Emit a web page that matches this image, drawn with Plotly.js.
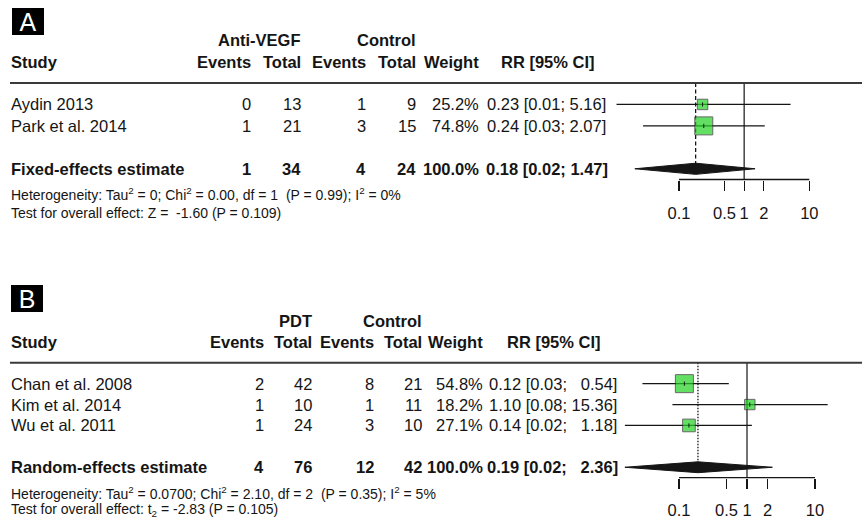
<!DOCTYPE html>
<html>
<head>
<meta charset="utf-8">
<script src="https://cdn.plot.ly/plotly-3.0.1.min.js"></script>
<style>
html, body { margin: 0; padding: 0; background: #ffffff; }
#chart { width: 862px; height: 519px; }
</style>
</head>
<body>
<div id="chart"></div>
<script>
// ---------------- DATA : panel A (Anti-VEGF vs Control) ----------------
const studiesA = ["Aydin 2013", "Park et al. 2014"];
const eventsTrtA = [0, 1];
const totalTrtA = [13, 21];
const eventsCtlA = [1, 3];
const totalCtlA = [9, 15];
const weightA = [25.2, 74.8];
const rrA = [0.23, 0.24];
const lowerA = [0.011, 0.028];
const upperA = [5.16, 2.07];
const pooledNameA = "Fixed-effects estimate";
const pooledCountsA = [1, 34, 4, 24];
const pooledWeightA = 100.0;
const pooledA = [0.18, 0.021, 1.47];          // estimate, lower, upper
const groupsA = ["Anti-VEGF", "Control"];
const heteroA = "Heterogeneity: Tau<sup>2</sup> = 0; Chi<sup>2</sup> = 0.00, df = 1 \u00a0(P = 0.99); I<sup>2</sup> = 0%";
const overallA = "Test for overall effect: Z = \u00a0-1.60 (P = 0.109)";

// ---------------- DATA : panel B (PDT vs Control) ----------------
const studiesB = ["Chan et al. 2008", "Kim et al. 2014", "Wu et al. 2011"];
const eventsTrtB = [2, 1, 1];
const totalTrtB = [42, 10, 24];
const eventsCtlB = [8, 1, 3];
const totalCtlB = [21, 11, 10];
const weightB = [54.8, 18.2, 27.1];
const rrB = [0.12, 1.10, 0.14];
const lowerB = [0.029, 0.08, 0.016];
const upperB = [0.54, 15.36, 1.18];
const pooledNameB = "Random-effects estimate";
const pooledCountsB = [4, 76, 12, 42];
const pooledWeightB = 100.0;
const pooledB = [0.19, 0.016, 2.36];
const groupsB = ["PDT", "Control"];
const heteroB = "Heterogeneity: Tau<sup>2</sup> = 0.0700; Chi<sup>2</sup> = 2.10, df = 2 \u00a0(P = 0.35); I<sup>2</sup> = 5%";
const overallB = "Test for overall effect: t<sub>2</sub> = -2.83 (P = 0.105)";

// ---------------- shared labels ----------------
const colHeaders = ["Study", "Events", "Total", "Events", "Total", "Weight", "RR [95% CI]"];
const tickVals = [0.1, 0.5, 1, 2, 10];
const tickText = ["0.1", "0.5", "1", "2", "10"];
const panelLetters = ["A", "B"];

// ---------------- style / layout ----------------
const W = 862, H = 519;
const px = x => x / W;
const py = y => 1 - y / H;
const FONT = "Liberation Sans, Arial, Helvetica, sans-serif";
const INK = "#151515";
const GREEN = "#22d322";
const FS = 16.5;

const traces = [];
const annotations = [];
const shapes = [];

function fmt(v) { return v.toFixed(2); }

function txt(text, xPix, row, yref, anchor, size) {
  annotations.push({
    text: text, xref: "paper", x: px(xPix), yref: yref, y: row,
    xanchor: anchor, yanchor: "middle", showarrow: false,
    font: { family: FONT, size: size || FS, color: INK },
    borderpad: 0, borderwidth: 0
  });
}

function buildPanel(p) {
  const n = p.studies.length;
  const rows = p.studies.map((_, i) => i + 1);
  const pooledRow = n + 2;
  const c = p.cols;
  const yr = p.ya;

  // CI format padding (digit width = two spaces)
  const allHi = p.upper.concat([p.pooled[2]]).map(fmt);
  const maxLen = Math.max(...allHi.map(s => s.length));
  const pad = s => "\u00a0\u00a0".repeat(maxLen - s.length) + s;
  const ciText = (est, lo, hi) => fmt(est) + " [" + fmt(lo) + "; " + pad(fmt(hi)) + "]";

  // headers
  txt("<b>" + p.groups[0] + "</b>", c.totT, -2, yr, "right");
  txt("<b>" + p.groups[1] + "</b>", c.totC, -2, yr, "right");
  txt("<b>" + colHeaders[0] + "</b>", c.study, -1, yr, "left");
  txt("<b>" + colHeaders[1] + "</b>", c.evT, -1, yr, "right");
  txt("<b>" + colHeaders[2] + "</b>", c.totT, -1, yr, "right");
  txt("<b>" + colHeaders[3] + "</b>", c.evC, -1, yr, "right");
  txt("<b>" + colHeaders[4] + "</b>", c.totC, -1, yr, "right");
  txt("<b>" + colHeaders[5] + "</b>", c.weight, -1, yr, "right");
  txt("<b>" + colHeaders[6] + "</b>", c.rrHead, -1, yr, "center");

  // study rows
  rows.forEach((r, i) => {
    txt(p.studies[i], c.study, r, yr, "left");
    txt(String(p.evT[i]), c.evT, r, yr, "right");
    txt(String(p.totT[i]), c.totT, r, yr, "right");
    txt(String(p.evC[i]), c.evC, r, yr, "right");
    txt(String(p.totC[i]), c.totC, r, yr, "right");
    txt(p.weight[i].toFixed(1) + "%", c.weight, r, yr, "right");
    txt(ciText(p.rr[i], p.lower[i], p.upper[i]), c.rr, r, yr, "center");
  });

  // pooled row
  txt("<b>" + p.pooledName + "</b>", c.study, pooledRow, yr, "left");
  txt("<b>" + p.pooledCounts[0] + "</b>", c.evT, pooledRow, yr, "right");
  txt("<b>" + p.pooledCounts[1] + "</b>", c.totT, pooledRow, yr, "right");
  txt("<b>" + p.pooledCounts[2] + "</b>", c.evC, pooledRow, yr, "right");
  txt("<b>" + p.pooledCounts[3] + "</b>", c.totC, pooledRow, yr, "right");
  txt("<b>" + p.pooledWeight.toFixed(1) + "%</b>", c.weight, pooledRow, yr, "right");
  txt("<b>" + ciText(p.pooled[0], p.pooled[1], p.pooled[2]) + "</b>", c.rr, pooledRow, yr, "center");

  // footnotes
  txt(p.hetero, c.study, py(p.foot[0]), "paper", "left", 14);
  txt(p.overall, c.study, py(p.foot[1]), "paper", "left", 14);

  // panel letter
  annotations.push({
    text: p.letter, xref: "paper", yref: "paper", x: px(p.letterPos[0]), y: py(p.letterPos[1]),
    xanchor: "center", yanchor: "middle", showarrow: false, width: 32, height: 27,
    bgcolor: "#000000", borderpad: 0, borderwidth: 0, valign: "middle",
    font: { family: FONT, size: 25, color: "#ffffff" }
  });

  // header separator line
  shapes.push({ type: "line", xref: "paper", x0: px(10), x1: 1, yref: yr, y0: 0, y1: 0,
    line: { color: "#3a3a3a", width: 2 } });
  // line of no effect
  shapes.push({ type: "line", xref: p.xa, x0: 1, x1: 1, yref: yr, y0: 0, y1: p.yBottom,
    layer: "below", line: { color: INK, width: 1.2 } });
  // axis baseline from first to last tick
  shapes.push({ type: "line", xref: p.xa, x0: tickVals[0], x1: tickVals[tickVals.length - 1],
    yref: yr + " domain", y0: 0, y1: 0, line: { color: INK, width: 1.3 } });

  // pooled estimate reference line
  traces.push({ type: "scatter", mode: "lines", x: [p.pooled[0], p.pooled[0]], y: [0, pooledRow],
    xaxis: p.xa, yaxis: yr, line: { color: INK, width: 1.3, dash: p.dash },
    hoverinfo: "skip", showlegend: false });

  // CI lines
  const cx = [], cy = [];
  rows.forEach((r, i) => { cx.push(p.lower[i], p.upper[i], null); cy.push(r, r, null); });
  traces.push({ type: "scatter", mode: "lines", x: cx, y: cy, xaxis: p.xa, yaxis: yr,
    line: { color: INK, width: 1.3 }, hoverinfo: "skip", showlegend: false, connectgaps: false });

  // weighted squares
  const maxW = Math.max(...p.weight);
  traces.push({ type: "scatter", mode: "markers", x: p.rr, y: rows, xaxis: p.xa, yaxis: yr,
    marker: { symbol: "square", size: p.weight.map(w => p.maxSize * Math.sqrt(w / maxW)),
      color: GREEN, line: { color: "#2b2b2b", width: 1 } },
    hoverinfo: "skip", showlegend: false });
  // centre mark
  traces.push({ type: "scatter", mode: "markers", x: p.rr, y: rows, xaxis: p.xa, yaxis: yr,
    marker: { symbol: "line-ns", size: 3, line: { color: INK, width: 1 } },
    hoverinfo: "skip", showlegend: false });

  // pooled diamond
  const est = p.pooled[0], lo = p.pooled[1], hi = p.pooled[2], h = 0.26;
  traces.push({ type: "scatter", mode: "lines", fill: "toself", fillcolor: INK,
    x: [lo, est, hi, est, lo], y: [pooledRow, pooledRow - h, pooledRow, pooledRow + h, pooledRow],
    xaxis: p.xa, yaxis: yr, line: { color: INK, width: 1 }, hoverinfo: "skip", showlegend: false });
}

buildPanel({
  letter: panelLetters[0], letterPos: [27.5, 22],
  xa: "x", ya: "y", yBottom: 4.5, dash: "4px,2.5px", maxSize: 18,
  studies: studiesA, evT: eventsTrtA, totT: totalTrtA, evC: eventsCtlA, totC: totalCtlA,
  weight: weightA, rr: rrA, lower: lowerA, upper: upperA,
  pooledName: pooledNameA, pooledCounts: pooledCountsA, pooledWeight: pooledWeightA, pooled: pooledA,
  groups: groupsA, hetero: heteroA, overall: overallA, foot: [194.5, 212.5],
  cols: { study: 11, evT: 251, totT: 301, evC: 365.5, totC: 415.7, weight: 479, rr: 546.5, rrHead: 547.5 }
});

buildPanel({
  letter: panelLetters[1], letterPos: [26.5, 298.5],
  xa: "x2", ya: "y2", yBottom: 5.5, dash: "1.5px,1.5px", maxSize: 18,
  studies: studiesB, evT: eventsTrtB, totT: totalTrtB, evC: eventsCtlB, totC: totalCtlB,
  weight: weightB, rr: rrB, lower: lowerB, upper: upperB,
  pooledName: pooledNameB, pooledCounts: pooledCountsB, pooledWeight: pooledWeightB, pooled: pooledB,
  groups: groupsB, hetero: heteroB, overall: overallB, foot: [492.5, 510],
  cols: { study: 11, evT: 264.3, totT: 311.7, evC: 374, totC: 421.7, weight: 483.3, rr: 552.5, rrHead: 554 }
});

const xCommon = {
  type: "log", showgrid: false, zeroline: false, showline: false,
  ticks: "outside", ticklen: 10, tickwidth: 1.3, tickcolor: INK,
  tickmode: "array", tickvals: tickVals, ticktext: tickText,
  tickfont: { family: FONT, size: FS, color: INK },
  domain: [px(610), 1], fixedrange: true
};
const yCommon = { visible: false, showgrid: false, zeroline: false, fixedrange: true };

const layout = {
  width: W, height: H,
  margin: { l: 0, r: 0, t: 0, b: 0, pad: 0 },
  paper_bgcolor: "#ffffff", plot_bgcolor: "rgba(0,0,0,0)",
  showlegend: false,
  font: { family: FONT, color: INK, size: FS },
  xaxis: Object.assign({}, xCommon, { anchor: "y", range: [-2.0591, 1.8089], ticklabelstandoff: 9 }),
  yaxis: Object.assign({}, yCommon, { anchor: "x", domain: [py(179.5), py(29.4)], range: [4.5, -2.5] }),
  xaxis2: Object.assign({}, xCommon, { anchor: "y2", range: [-2.0147, 1.6912], ticklabelstandoff: 7 }),
  yaxis2: Object.assign({}, yCommon, { anchor: "x2", domain: [py(477.7), py(310.5)], range: [5.5, -2.5] }),
  annotations: annotations,
  shapes: shapes
};

Plotly.newPlot("chart", traces, layout, { staticPlot: true, displayModeBar: false });
</script>
</body>
</html>
